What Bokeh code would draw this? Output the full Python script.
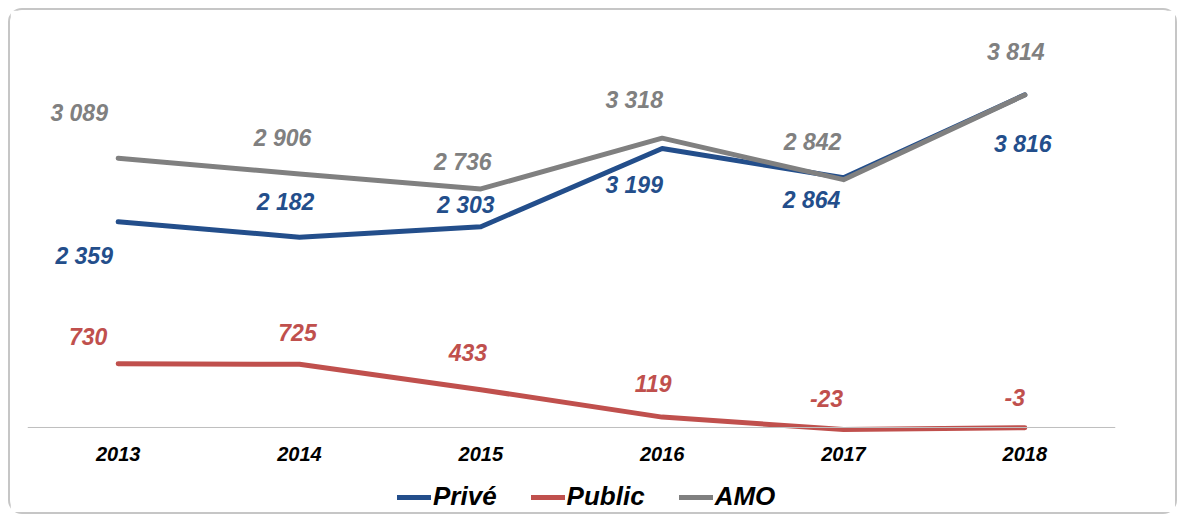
from bokeh.plotting import figure
from bokeh.models import ColumnDataSource, Span, Legend, LegendItem, FactorRange
from bokeh.core.properties import value
from bokeh.embed import file_html
from bokeh.resources import INLINE

years = ["2013", "2014", "2015", "2016", "2017", "2018"]
prive = [2359, 2182, 2303, 3199, 2864, 3816]
public = [730, 725, 433, 119, -23, -3]
amo = [3089, 2906, 2736, 3318, 2842, 3814]

def fmt(v):
    s = f"{abs(v):,}".replace(",", " ")
    return ("-" if v < 0 else "") + s

# label offsets in screen pixels (style)
off_amo = [(-39, -45), (-17, -36), (-18, -27), (-28, -38), (-31, -38), (-9, -43)]
off_prive = [(-34, 34), (-14, -35), (-15, -22), (-28, 36), (-32, 22), (-2, 49)]
off_public = [(-30, -27), (-2, -32), (-13, -37), (-9, -34), (-17, -31), (-10, -30)]

BLUE = "#234e8b"
RED = "#c0504d"
GREY = "#808080"
FONT = "'Liberation Sans', Arial, sans-serif"

p = figure(x_range=FactorRange(*years), y_range=(-975, 4725),
           frame_width=1088, frame_height=497,
           min_border_left=17, min_border_right=60, min_border_top=5, min_border_bottom=0,
           output_backend="svg", toolbar_location=None)
p.margin = (8, 0, 0, 8)
p.styles = {"border": "2px solid #c6c6c6", "border-radius": "14px"}
p.outline_line_color = None
p.xgrid.visible = False
p.ygrid.visible = False
p.yaxis.visible = False

p.add_layout(Span(location=0, dimension="width", line_color="#bfbfbf", line_width=1))

renderers = []
for vals, col, offs in [(prive, BLUE, off_prive), (public, RED, off_public), (amo, GREY, off_amo)]:
    src = ColumnDataSource(dict(x=years, y=vals, t=[fmt(v) for v in vals],
                                dx=[o[0] for o in offs], dy=[o[1] for o in offs]))
    r = p.line("x", "y", source=src, line_color=col, line_width=5, line_cap="round", line_join="round")
    renderers.append(r)
    p.text("x", "y", text="t", source=src, x_offset="dx", y_offset="dy",
           text_align="center", text_baseline="middle", text_color=col,
           text_font=value(FONT), text_font_style="bold italic", text_font_size="23px")

ax = p.xaxis[0]
ax.fixed_location = 0
ax.axis_line_color = None
ax.major_tick_line_color = None
ax.minor_tick_line_color = None
ax.major_tick_out = 0
ax.major_tick_in = 0
ax.major_label_standoff = 20
ax.major_label_text_font = FONT
ax.major_label_text_font_style = "bold italic"
ax.major_label_text_font_size = "20px"
ax.major_label_text_color = "#000000"

legend = Legend(items=[LegendItem(label="Privé", renderers=[renderers[0]]),
                       LegendItem(label="Public", renderers=[renderers[1]]),
                       LegendItem(label="AMO", renderers=[renderers[2]])],
                orientation="horizontal", location=(370, 0),
                glyph_width=34, glyph_height=20, label_standoff=2, spacing=34,
                padding=2, margin=0, border_line_color=None, background_fill_alpha=0,
                label_text_font=FONT, label_text_font_style="bold italic",
                label_text_font_size="26px", label_text_color="#000000")
p.add_layout(legend)

open("out.html", "w").write(file_html(p, INLINE))
